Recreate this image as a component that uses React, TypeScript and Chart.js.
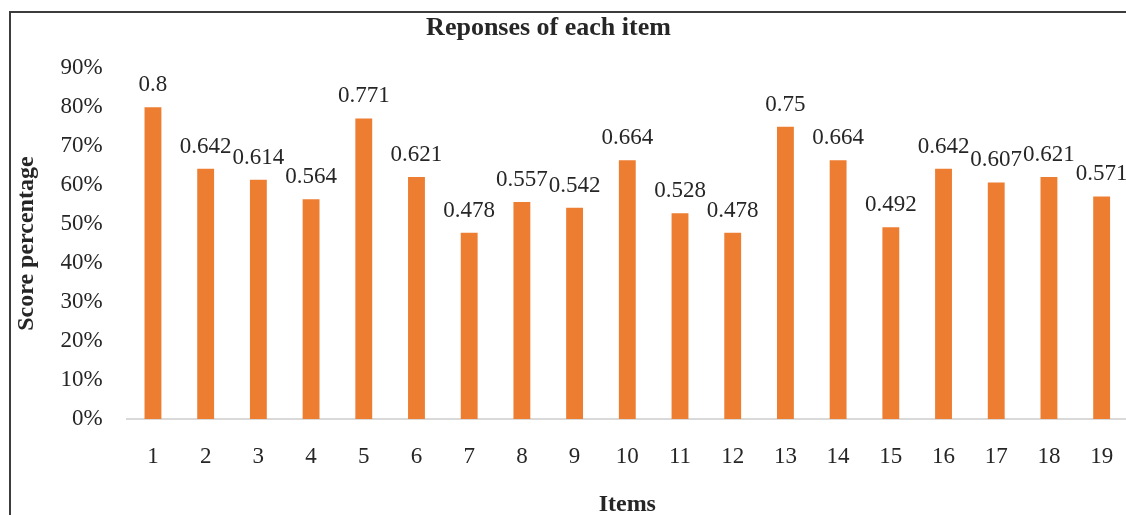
import React, { useEffect, useRef } from "react";
import { Chart, registerables } from "chart.js";

Chart.register(...registerables);

const chartTitle = "Reponses of each item";
const xAxisTitle = "Items";
const yAxisTitle = "Score percentage";
const categories = ["1", "2", "3", "4", "5", "6", "7", "8", "9", "10", "11", "12", "13", "14", "15", "16", "17", "18", "19"];
const values = [0.8, 0.642, 0.614, 0.564, 0.771, 0.621, 0.478, 0.557, 0.542, 0.664, 0.528, 0.478, 0.75, 0.664, 0.492, 0.642, 0.607, 0.621, 0.571];
const valueLabels = ["0.8", "0.642", "0.614", "0.564", "0.771", "0.621", "0.478", "0.557", "0.542", "0.664", "0.528", "0.478", "0.75", "0.664", "0.492", "0.642", "0.607", "0.621", "0.571"];
const yMin = 0;
const yMax = 0.9;
const yStep = 0.1;

const FONT = '"Liberation Serif", "Times New Roman", serif';
const TEXT = "#262626";
const BAR = "#ED7D31";

const CANVAS_W = 1159;
const CANVAS_H = 515;
const OFFSET_X = -31;

const valueLabelPlugin = {
  id: "valueLabelPlugin",
  afterDatasetsDraw(chart: any) {
    const ctx = chart.ctx;
    const meta = chart.getDatasetMeta(0);
    ctx.save();
    ctx.font = `23px ${FONT}`;
    ctx.fillStyle = TEXT;
    ctx.textAlign = "center";
    ctx.textBaseline = "alphabetic";
    meta.data.forEach((bar: any, i: number) => {
      ctx.fillText(valueLabels[i], bar.x, bar.y - 16);
    });
    ctx.restore();
  },
};

export default function App() {
  const canvasRef = useRef<HTMLCanvasElement | null>(null);

  useEffect(() => {
    if (!canvasRef.current) return;
    const chart = new Chart(canvasRef.current, {
      type: "bar",
      data: {
        labels: categories,
        datasets: [
          {
            data: values,
            backgroundColor: BAR,
            borderWidth: 0,
            barPercentage: 0.32,
            categoryPercentage: 1,
          },
        ],
      },
      options: {
        animation: false,
        responsive: false,
        devicePixelRatio: 1,
        layout: { padding: 0 },
        plugins: {
          legend: { display: false },
          tooltip: { enabled: false },
          title: {
            display: true,
            text: chartTitle,
            color: TEXT,
            font: { family: FONT, size: 26, weight: "bold", lineHeight: 1.2 },
            padding: { top: 13, bottom: 24 },
          },
        },
        scales: {
          x: {
            grid: { display: false, drawTicks: false },
            border: { display: true, color: "#d9d9d9", width: 2 },
            ticks: {
              color: TEXT,
              font: { family: FONT, size: 23 },
              padding: 24,
              maxRotation: 0,
              autoSkip: false,
            },
            title: {
              display: true,
              text: xAxisTitle,
              color: TEXT,
              font: { family: FONT, size: 24, weight: "bold", lineHeight: 0.85 },
              padding: { top: 0, bottom: 0 },
            },
            afterFit(scale: any) {
              scale.height = 96;
              scale.paddingLeft = 0;
              scale.paddingRight = 0;
            },
          },
          y: {
            min: yMin,
            max: yMax,
            grid: { display: false, drawTicks: false },
            border: { display: false },
            ticks: {
              stepSize: yStep,
              color: TEXT,
              font: { family: FONT, size: 23 },
              padding: 24,
              callback: (v: any) => `${Math.round(Number(v) * 100)}%`,
            },
            title: {
              display: true,
              text: yAxisTitle,
              color: TEXT,
              font: { family: FONT, size: 24, weight: "bold", lineHeight: 1.2 },
              padding: { top: 43.6, bottom: 0 },
            },
            afterFit(scale: any) {
              scale.width = 157.6;
            },
          },
        },
      },
      plugins: [valueLabelPlugin],
    } as any);
    return () => chart.destroy();
  }, []);

  return (
    <div
      style={{
        position: "fixed",
        left: 0,
        top: 0,
        width: 1126,
        height: 515,
        overflow: "hidden",
        background: "#ffffff",
      }}
    >
      <div style={{ position: "absolute", left: OFFSET_X, top: 0, width: CANVAS_W, height: CANVAS_H }}>
        <canvas ref={canvasRef} width={CANVAS_W} height={CANVAS_H} style={{ display: "block" }} />
      </div>
      <div
        style={{
          position: "absolute",
          left: 9,
          top: 11,
          width: 1200,
          height: 600,
          borderLeft: "2px solid #3c3c3c",
          borderTop: "2px solid #3c3c3c",
          boxSizing: "border-box",
          pointerEvents: "none",
        }}
      />
    </div>
  );
}
